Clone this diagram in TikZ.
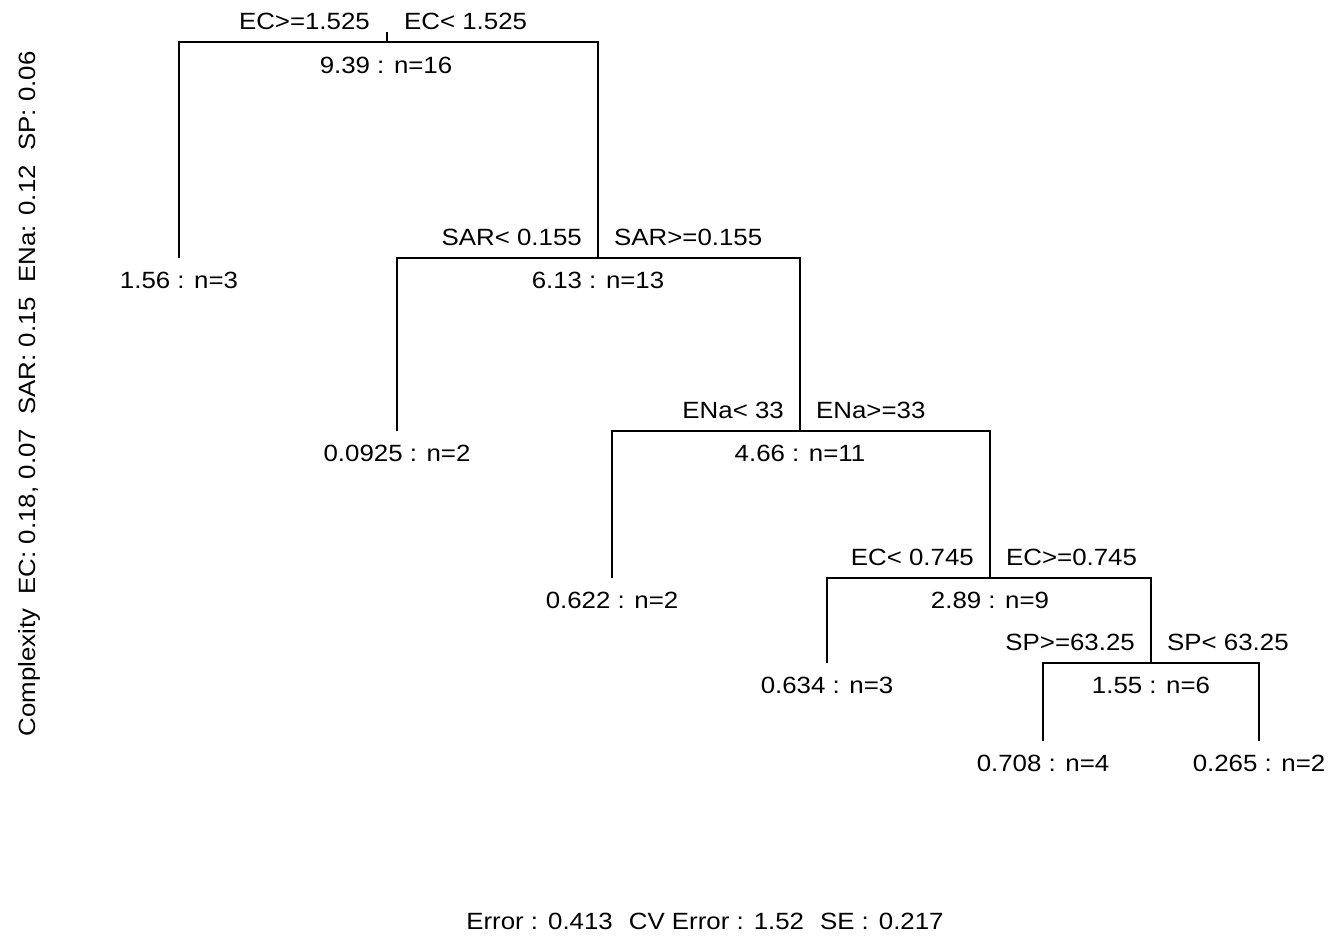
\documentclass[tikz,border=0pt]{standalone}
\usepackage{fontspec}
\setmainfont{Liberation Sans}[FakeStretch=1.1]
\begin{document}
\begin{tikzpicture}[x=1pt,y=-1pt,
  edge/.style={line width=1.1pt, black},
  txt/.style={inner sep=0pt, font=\fontsize{23.5}{28}\selectfont},
  nlab/.style={txt, anchor=base},
  llab/.style={txt, anchor=base east},
  rlab/.style={txt, anchor=base west}]
\fill[white] (0,0) rectangle (1328,937);
\useasboundingbox (0,0) rectangle (1328,937);
% node positions
\coordinate (n1) at (387,42);
\coordinate (n2) at (598,258);
\coordinate (n3) at (800,431);
\coordinate (n4) at (990,578);
\coordinate (n5) at (1151,663);
\coordinate (l1) at (179,258);
\coordinate (l2) at (397,431);
\coordinate (l3) at (612,578);
\coordinate (l4) at (827,663);
\coordinate (l5) at (1043,741);
\coordinate (l6) at (1259,741);
\coordinate (top) at (387,32);
% branches
\draw[edge] (top) -- (n1);
\draw[edge] (l1) |- (n1) -| (n2);
\draw[edge] (l2) |- (n2) -| (n3);
\draw[edge] (l3) |- (n3) -| (n4);
\draw[edge] (l4) |- (n4) -| (n5);
\draw[edge] (l5) |- (n5) -| (l6);
% split labels
\node[llab] (s1l) at ([shift={(-17,-13)}]n1) {EC>=1.525};
\node[rlab] (s1r) at ([shift={(17,-13)}]n1) {EC< 1.525};
\node[llab] (s2l) at ([shift={(-16,-13)}]n2) {SAR< 0.155};
\node[rlab] (s2r) at ([shift={(16,-13)}]n2) {SAR>=0.155};
\node[llab] (s3l) at ([shift={(-16,-13)}]n3) {ENa< 33};
\node[rlab] (s3r) at ([shift={(16,-13)}]n3) {ENa>=33};
\node[llab] (s4l) at ([shift={(-16,-13)}]n4) {EC< 0.745};
\node[rlab] (s4r) at ([shift={(16,-13)}]n4) {EC>=0.745};
\node[llab] (s5l) at ([shift={(-16,-13)}]n5) {SP>=63.25};
\node[rlab] (s5r) at ([shift={(16,-13)}]n5) {SP< 63.25};
% node values
\node[nlab] (v1) at ([shift={(-1,31)}]n1) {9.39 : n=16};
\node[nlab] (v2) at ([shift={(0,30)}]n2) {6.13 : n=13};
\node[nlab] (v3) at ([shift={(0,30)}]n3) {4.66 : n=11};
\node[nlab] (v4) at ([shift={(0,30)}]n4) {2.89 : n=9};
\node[nlab] (v5) at ([shift={(0,30)}]n5) {1.55 : n=6};
\node[nlab] (w1) at ([shift={(0,30)}]l1) {1.56 : n=3};
\node[nlab] (w2) at ([shift={(0,30)}]l2) {0.0925 : n=2};
\node[nlab] (w3) at ([shift={(0,30)}]l3) {0.622 : n=2};
\node[nlab] (w4) at ([shift={(0,30)}]l4) {0.634 : n=3};
\node[nlab] (w5) at ([shift={(0,30)}]l5) {0.708 : n=4};
\node[nlab] (w6) at ([shift={(0,30)}]l6) {0.265 : n=2};
% axis texts
\node[txt, rotate=90, anchor=base] (cx) at (35,394) {Complexity\ \ EC: 0.18, 0.07\ \ SAR: 0.15\ \ ENa: 0.12\ \ SP: 0.06};
\node[txt, anchor=base] (err) at (705,929) {Error :\hspace{10pt}0.413\hspace{16pt}CV Error :\hspace{10pt}1.52\hspace{16pt}SE :\hspace{10pt}0.217};
\end{tikzpicture}
\end{document}
